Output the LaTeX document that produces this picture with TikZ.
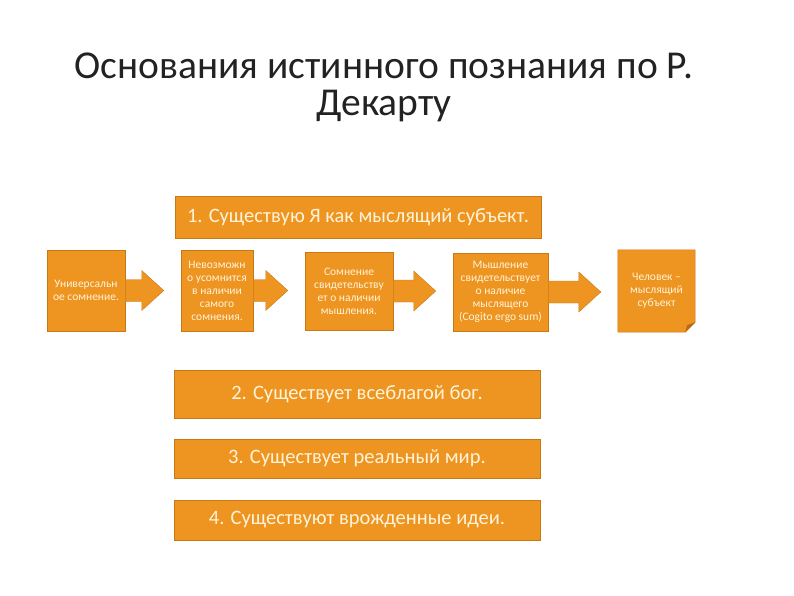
\documentclass[tikz,border=0pt]{standalone}
\usepackage{fontspec}
\setmainfont{Carlito}
\usetikzlibrary{calc, backgrounds}
\definecolor{box-fill}{HTML}{EE9420}
\definecolor{box-edge}{HTML}{C97816}
\definecolor{box-fold}{HTML}{B8690F}
\definecolor{box-text}{HTML}{FFF4DA}
\definecolor{title-ink}{HTML}{222222}
\newcommand{\flowarrow}[2]{%  \flowarrow{from}{to}
  \fill[box-fill, draw=box-edge, line width=0.4pt] let \p1=(#1.east), \p2=(#2.west) in
    (\x1,\y1+11pt) -- (\x2-39pt,\y1+11pt) -- (\x2-39pt,\y1+20pt) -- (\x2-17pt,\y1)
    -- (\x2-39pt,\y1-20pt) -- (\x2-39pt,\y1-11pt) -- (\x1,\y1-11pt) -- cycle;}

\begin{document}
\begin{tikzpicture}[x=1pt, y=-1pt,
    bigbox/.style={fill=box-fill, draw=box-edge, line width=0.5pt, text=box-text,
      minimum width=366pt, inner sep=0pt, font=\fontsize{20.5}{23}\selectfont},
    smallbox/.style={fill=box-fill, draw=box-edge, line width=0.5pt, text=box-text,
      inner sep=0pt, align=center, font=\fontsize{11.5}{13}\selectfont}]
    \useasboundingbox (0,0) rectangle (794,595);
    % ── Title
    \node[text=title-ink, align=center, font=\fontsize{39.5}{37}\selectfont] (title)
      at (384,87) {Основания истинного познания по Р.\\Декарту};
    % ── Step 1 and the chain under it
    \node[bigbox, minimum height=42pt] (first) at (358,217)
      {1. Существую Я как мыслящий субъект.};
    \node[smallbox, minimum width=78pt, minimum height=81pt] (doubt) at (86,290.5)
      {Универсальн\\ое сомнение.};
    \node[smallbox, minimum width=72pt, minimum height=81pt] (nodoubt) at (217,290.5)
      {Невозможн\\о усомнится\\в наличии\\самого\\сомнения.};
    \node[smallbox, minimum width=88pt, minimum height=78pt] (thinking) at (349,291)
      {Сомнение\\свидетельству\\ет о наличии\\мышления.};
    \node[smallbox, minimum width=95pt, minimum height=78pt] (cogito) at (500.5,292)
      {Мышление\\свидетельствует\\о наличие\\мыслящего\\(Cogito ergo sum)};
    \node[text=box-text, inner sep=0pt, align=center, font=\fontsize{11.5}{13}\selectfont,
      minimum width=77pt, minimum height=82pt] (human) at (656.5,291)
      {Человек –\\мыслящий\\субъект};
    \begin{scope}[on background layer]
      \fill[box-fill, draw=box-edge, line width=0.5pt] (human.north west) -- (human.north east)
        -- ($(human.south east)+(0,-10)$) -- ($(human.south east)+(-10,0)$)
        -- (human.south west) -- cycle;
      \fill[box-fold] ($(human.south east)+(0,-10)$) -- ($(human.south east)+(-10,0)$)
        -- ($(human.south east)+(-8,-7)$) -- cycle;
    \end{scope}
    \flowarrow{doubt}{nodoubt}
    \flowarrow{nodoubt}{thinking}
    \flowarrow{thinking}{cogito}
    \flowarrow{cogito}{human}
    % ── Steps 2 to 4
    \node[bigbox, minimum height=48pt] (second) at (357,394)
      {2. Существует всеблагой бог.};
    \node[bigbox, minimum height=39pt] (third) at (357,458.5)
      {3. Существует реальный мир.};
    \node[bigbox, minimum height=40pt] (fourth) at (357,520)
      {4. Существуют врожденные идеи.};
\end{tikzpicture}
\end{document}
